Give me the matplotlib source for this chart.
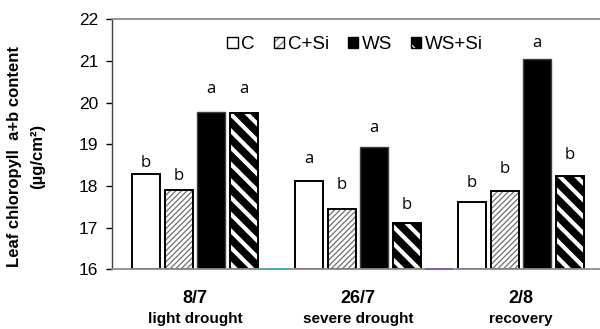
import matplotlib
matplotlib.use("Agg")
import matplotlib.pyplot as plt
from matplotlib.patches import Patch
from matplotlib.transforms import blended_transform_factory

plt.rcParams['font.family'] = ['Liberation Sans', 'DejaVu Sans']

# chlorophyll a+b content (ug/cm2) per sampling date and treatment
dates = ["8/7", "26/7", "2/8"]
phases = ["light drought", "severe drought", "recovery"]
treatments = ["C", "C+Si", "WS", "WS+Si"]
chl_C = [18.28, 18.12, 17.62]
chl_CSi = [17.90, 17.44, 17.88]
chl_WS = [19.78, 18.94, 21.04]
chl_WSSi = [19.76, 17.12, 18.24]
series = [chl_C, chl_CSi, chl_WS, chl_WSSi]

# significance letters and the height they sit at
letters = [["b", "b", "a", "a"],
           ["a", "b", "a", "b"],
           ["b", "b", "a", "b"]]
letter_y = [[18.46, 18.14, 20.22, 20.22],
            [18.54, 17.92, 19.30, 17.46],
            [17.98, 18.30, 21.34, 18.64]]

ymin, ymax = 16, 22
slot = 5          # 4 bars + 1 empty slot per date
width = 0.86

fig = plt.figure(figsize=(6.0, 3.29), dpi=100)
ax = fig.add_axes([0.187, 0.181, 0.813, 0.761])


def draw_bar(x, h, kind):
    h = h - ymin
    if kind == 0:
        ax.bar(x, h, width, bottom=ymin, color="white", edgecolor="black", linewidth=1.4)
    elif kind == 1:
        with plt.rc_context({"hatch.linewidth": 0.9}):
            ax.bar(x, h, width, bottom=ymin, color="white", edgecolor="#6f6f6f",
                   hatch="//////", linewidth=0)
        ax.bar(x, h, width, bottom=ymin, fill=False, edgecolor="black", linewidth=1.4)
    elif kind == 2:
        ax.bar(x, h, width, bottom=ymin, color="black", edgecolor="#404040", linewidth=1.0)
    else:
        with plt.rc_context({"hatch.linewidth": 3.0}):
            ax.bar(x, h, width, bottom=ymin, color="black", edgecolor="white",
                   hatch="\\\\", linewidth=0)
        ax.bar(x, h, width, bottom=ymin, fill=False, edgecolor="black", linewidth=1.4)


for g in range(len(dates)):
    for i, vals in enumerate(series):
        x = g * slot + i
        draw_bar(x, vals[g], i)
        ax.text(x, letter_y[g][i], letters[g][i], ha="center", va="baseline",
                fontsize=12, family=["Open Sans", "DejaVu Sans"])

# empty spacer slots drawn by the spreadsheet as thin coloured bars
spacer_colors = ["#4BACC6", "#8064A2"]
for g, c in enumerate(spacer_colors):
    ax.bar(g * slot + 4, 0.045, width, bottom=ymin - 0.02, color=c, linewidth=0,
           zorder=5, clip_on=False)

ax.set_xlim(-1.04, 13.93)
ax.set_ylim(ymin, ymax)
ax.set_yticks(range(ymin, ymax + 1))
ax.tick_params(axis="y", labelsize=12.5, length=4, width=1.0, direction="out", pad=6)
ax.set_xticks([])

for side in ["top", "bottom"]:
    ax.spines[side].set_color("#8c8c8c")
    ax.spines[side].set_linewidth(1.3)
ax.spines["right"].set_visible(False)
ax.spines["left"].set_color("#404040")
ax.spines["left"].set_linewidth(1.0)

trans = blended_transform_factory(ax.transData, ax.transAxes)
for g in range(len(dates)):
    xc = g * slot + 1.5
    ax.text(xc, -0.135, dates[g], transform=trans, ha="center", va="baseline",
            fontsize=13, fontweight="bold")
    ax.text(xc, -0.212, phases[g], transform=trans, ha="center", va="baseline",
            fontsize=11, fontweight="bold")

fig.text(0.025, 0.525, "Leaf chloropyll  a+b content", rotation=90, ha="center",
         va="center", fontsize=12, fontweight="bold")
fig.text(0.062, 0.525, "(µg/cm²)", rotation=90, ha="center", va="center",
         fontsize=12, fontweight="bold")

# legend: hatched handles are a fill patch with a black outline on top
outline = dict(fill=False, edgecolor="black", linewidth=1.0)
with plt.rc_context({"hatch.linewidth": 0.8}):
    h_csi = Patch(facecolor="white", edgecolor="#7f7f7f", hatch="////", linewidth=0)
with plt.rc_context({"hatch.linewidth": 1.5}):
    h_wssi = Patch(facecolor="black", edgecolor="white", hatch="\\\\", linewidth=0)
handles = [Patch(facecolor="white", edgecolor="black", linewidth=1.0),
           (h_csi, Patch(**outline)),
           Patch(facecolor="black", edgecolor="black", linewidth=1.0),
           (h_wssi, Patch(**outline))]
ax.legend(handles, treatments, loc="center", bbox_to_anchor=(0.498, 0.898), ncol=4,
          frameon=False, fontsize=13.5, handlelength=0.55, handleheight=0.55,
          handletextpad=0.2, columnspacing=1.0, borderpad=0, borderaxespad=0)

fig.savefig("out.png", dpi=100)
